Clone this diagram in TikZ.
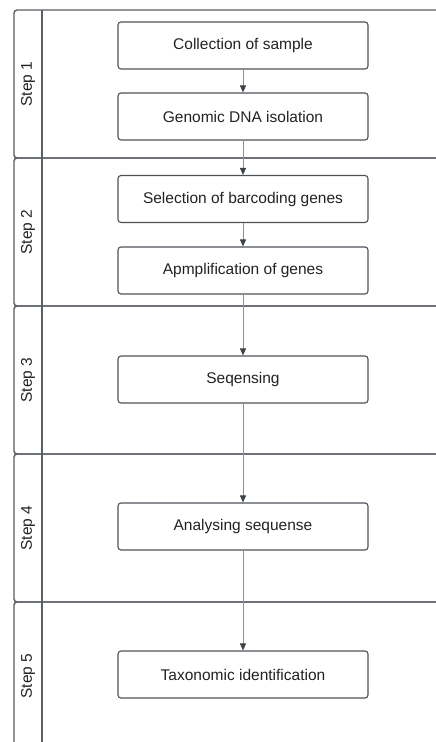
\documentclass[tikz,border=0pt]{standalone}
\usepackage{fontspec}
\setmainfont{Liberation Sans}
\usetikzlibrary{arrows.meta,positioning}
\definecolor{laneline}{HTML}{5A5E66}
\definecolor{boxline}{HTML}{4D5159}
\definecolor{arrowline}{HTML}{8B8F96}
\definecolor{tipcol}{HTML}{3D4148}
\definecolor{textcol}{HTML}{222222}

\begin{document}
\begin{tikzpicture}[
x=1pt, y=-1pt,
font=\fontsize{15.5}{18}\selectfont,
box/.style={draw=boxline, line width=1.1pt, rounded corners=3pt, minimum width=250pt, minimum height=47pt, inner sep=0pt, text=textcol},
lane/.style={draw=laneline, line width=1.4pt, rounded corners=3pt},
arrow/.style={draw=arrowline, line width=0.8pt, -{Triangle[length=7pt, width=6pt, color=tipcol]}}
]
\useasboundingbox (0,0) rectangle (436,742);

% swim lanes
\begin{scope}
\clip (0,0) rectangle (436,742);
\foreach \i in {1,...,5} {
  \pgfmathsetmacro\ytop{10+148*(\i-1)}
  \draw[lane] (14,\ytop) rectangle (470,\ytop+148);
  \draw[laneline, line width=1.4pt] (42,\ytop) -- (42,\ytop+148);
  \node[rotate=90, text=textcol] (step\i) at (28,\ytop+74) {Step \i};
}
\end{scope}

\node[box] (collect) at (243,45.5) {Collection of sample};
\node[box] (isolate) at (243,116.5) {Genomic DNA isolation};
\node[box] (select) at (243,199) {Selection of barcoding genes};
\node[box] (amplify) at (243,270.5) {Apmplification of genes};
\node[box] (seq) at (243,379.5) {Seqensing};
\node[box] (analyse) at (243,526.5) {Analysing sequense};
\node[box] (taxon) at (243,674.5) {Taxonomic identification};

\draw[arrow] (collect) -- (isolate);
\draw[arrow] (isolate) -- (select);
\draw[arrow] (select) -- (amplify);
\draw[arrow] (amplify) -- (seq);
\draw[arrow] (seq) -- (analyse);
\draw[arrow] (analyse) -- (taxon);
\end{tikzpicture}
\end{document}
